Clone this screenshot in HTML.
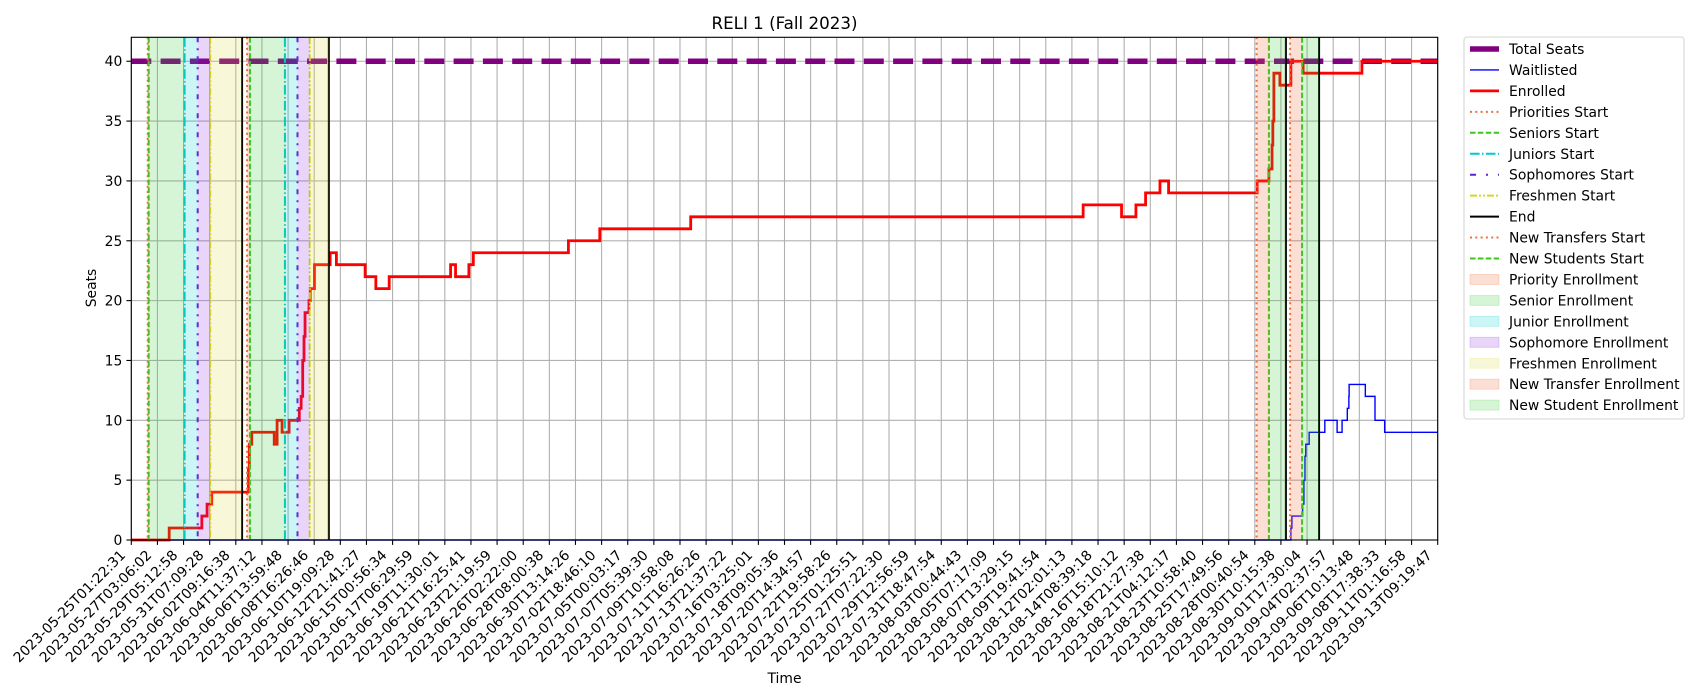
<!DOCTYPE html>
<html><head><meta charset="utf-8"><title>RELI 1 (Fall 2023)</title>
<style>
html,body{margin:0;padding:0;background:#fff;}
svg{display:block;font-family:"DejaVu Sans","Liberation Sans",sans-serif;}
</style></head>
<body>
<svg id="chart" width="1700" height="700" viewBox="0 0 1700 700" xmlns="http://www.w3.org/2000/svg">
<rect x="0" y="0" width="1700" height="700" fill="#fff"/>
<text x="784.5" y="29" text-anchor="middle" font-size="16.7" fill="#000">RELI 1 (Fall 2023)</text>
<text transform="translate(96,288) rotate(-90)" text-anchor="middle" font-size="13.9" fill="#000">Seats</text>
<text x="784.5" y="683" text-anchor="middle" font-size="13.9" fill="#000">Time</text>
<g id="grid"></g>
<g id="series"></g>
<g id="events"></g>
<g id="spans"></g>
<g id="axes"></g>
<g id="legend"></g>
</svg>
<script>
// ---- data ----
const xLabels = ["2023-05-25T01:22:31","2023-05-27T03:06:02","2023-05-29T05:12:58","2023-05-31T07:09:28","2023-06-02T09:16:38","2023-06-04T11:37:12","2023-06-06T13:59:48","2023-06-08T16:26:46","2023-06-10T19:09:28","2023-06-12T21:41:27","2023-06-15T00:56:34","2023-06-17T06:29:59","2023-06-19T11:30:01","2023-06-21T16:25:41","2023-06-23T21:19:59","2023-06-26T02:22:00","2023-06-28T08:00:38","2023-06-30T13:14:26","2023-07-02T18:46:10","2023-07-05T00:03:17","2023-07-07T05:39:30","2023-07-09T10:58:08","2023-07-11T16:26:26","2023-07-13T21:37:22","2023-07-16T03:25:01","2023-07-18T09:05:36","2023-07-20T14:34:57","2023-07-22T19:58:26","2023-07-25T01:25:51","2023-07-27T07:22:30","2023-07-29T12:56:59","2023-07-31T18:47:54","2023-08-03T00:44:43","2023-08-05T07:17:09","2023-08-07T13:29:15","2023-08-09T19:41:54","2023-08-12T02:01:13","2023-08-14T08:39:18","2023-08-16T15:10:12","2023-08-18T21:27:38","2023-08-21T04:12:17","2023-08-23T10:58:40","2023-08-25T17:49:56","2023-08-28T00:40:54","2023-08-30T10:15:38","2023-09-01T17:30:04","2023-09-04T02:37:57","2023-09-06T10:13:48","2023-09-08T17:38:33","2023-09-11T01:16:58","2023-09-13T09:19:47"];
const yTicks = [0,5,10,15,20,25,30,35,40];
const totalSeats = 40;
const enrolledX = [0,1.45,2.70,2.90,3.08,4.48,4.52,4.61,5.47,5.58,5.77,6.04,6.43,6.50,6.56,6.61,6.65,6.80,6.85,7.01,7.61,7.85,8.95,9.36,9.87,12.22,12.41,12.92,13.09,16.73,17.93,21.41,36.43,37.90,38.45,38.82,39.37,39.70,43.09,43.54,43.66,43.69,43.73,43.96,44.38,44.85,47.10,50];
const enrolledY = [0,1,2,3,4,6,8,9,8,10,9,10,11,12,15,17,19,20,21,23,24,23,22,21,22,23,22,23,24,25,26,27,28,27,28,29,30,29,30,31,33,35,39,38,40,39,40,40];
const waitX = [0,44.38,44.42,44.83,44.88,44.92,44.95,44.98,45.08,45.68,46.15,46.34,46.54,46.60,46.61,47.23,47.60,47.97,50];
const waitY = [0,1,2,3,5,7,8,8,9,10,9,10,11,12,13,12,10,9,9];
const eventNames = ["Priorities Start","Seniors Start","Juniors Start","Sophomores Start","Freshmen Start","End","Priorities Start","Seniors Start","Juniors Start","Sophomores Start","Freshmen Start","End","New Transfers Start","New Students Start","End","New Transfers Start","New Students Start","End"];
const eventX = [0.628,0.666,2.04,2.54,3.02,4.24,4.43,4.54,5.88,6.36,6.83,7.56,43.07,43.54,44.19,44.35,44.81,45.46];
const spanNames = ["Priority Enrollment","Senior Enrollment","Junior Enrollment","Sophomore Enrollment","Freshmen Enrollment","Priority Enrollment","Senior Enrollment","Junior Enrollment","Sophomore Enrollment","Freshmen Enrollment","New Transfer Enrollment","New Student Enrollment","New Transfer Enrollment","New Student Enrollment"];
const spanStart = [0.628,0.666,2.04,2.54,3.02,4.43,4.54,5.88,6.36,6.83,43.07,43.54,44.35,44.81];
const spanEnd = [0.666,2.04,2.54,3.02,4.24,4.54,5.88,6.36,6.83,7.56,43.54,44.19,44.81,45.46];

// ---- scales ----
const X0=131.3, X1=1437.7, YB=540, YT=37.3;
const xMax = xLabels.length-1;
function xs(i){return X0+(X1-X0)*i/xMax;}
function ys(v){return YB-(YB-YT)*v/42;}
const NS="http://www.w3.org/2000/svg";
function mk(tag,attrs,parent){const e=document.createElementNS(NS,tag);for(const k in attrs)e.setAttribute(k,attrs[k]);parent.appendChild(e);return e;}
const styles = {
 "Priorities Start":{c:"#f07038",d:"2,3.3"},
 "Seniors Start":{c:"#38c81a",d:"5.5,2.4"},
 "Juniors Start":{c:"#00c8d0",d:"9.6,2.4,1.5,2.4"},
 "Sophomores Start":{c:"#6020d0",d:"5,6,2,6"},
 "Freshmen Start":{c:"#d6d624",d:"7,2,2,2,2,2"},
 "End":{c:"#000",d:""},
 "New Transfers Start":{c:"#f07038",d:"2,3.3"},
 "New Students Start":{c:"#38c81a",d:"5.5,2.4"}
};
const fills = {
 "Priority Enrollment":"rgba(240,110,60,0.22)",
 "Senior Enrollment":"rgba(50,205,50,0.2)",
 "Junior Enrollment":"rgba(0,206,209,0.2)",
 "Sophomore Enrollment":"rgba(138,43,226,0.2)",
 "Freshmen Enrollment":"rgba(220,220,60,0.2)",
 "New Transfer Enrollment":"rgba(240,110,60,0.22)",
 "New Student Enrollment":"rgba(50,205,50,0.2)"
};
const grid=document.getElementById('grid'), series=document.getElementById('series'), events=document.getElementById('events'), spans=document.getElementById('spans'), axes=document.getElementById('axes'), legend=document.getElementById('legend');

// grid
for(let i=0;i<=xMax;i++){
 const l=mk('line',{x1:xs(i),x2:xs(i),y1:YT,y2:YB,stroke:"#b0b0b0","stroke-width":1.1},grid);
 
 
}
yTicks.forEach(v=>{
 const l=mk('line',{x1:X0,x2:X1,y1:ys(v),y2:ys(v),stroke:"#b0b0b0","stroke-width":1.1},grid);
 
 
});

// step path (value ya[i] starts at xa[i])
function stepPath(xa,ya){let d="M"+xs(xa[0])+","+ys(ya[0]);for(let i=1;i<xa.length;i++){d+=" H"+xs(xa[i])+" V"+ys(ya[i]);}return d;}
const ts=mk('line',{x1:X0,x2:X1,y1:ys(totalSeats),y2:ys(totalSeats),stroke:"#800080","stroke-width":5.5,"stroke-dasharray":"20,9.3"},series);


const wl=mk('path',{d:stepPath(waitX,waitY),fill:"none",stroke:"#0000ff","stroke-width":1.4},series);


const en=mk('path',{d:stepPath(enrolledX,enrolledY),fill:"none",stroke:"#ff0000","stroke-width":2.8,"stroke-linejoin":"miter"},series);



// event lines
eventX.forEach((x,i)=>{
 const s=styles[eventNames[i]];
 const l=mk('line',{x1:xs(x),x2:xs(x),y1:YT,y2:YB,stroke:s.c,"stroke-width":2},events);
 if(s.d)l.setAttribute('stroke-dasharray',s.d);
 
 
});
// spans
spanStart.forEach((x,i)=>{
 const r=mk('rect',{x:xs(x),y:YT,width:xs(spanEnd[i])-xs(x),height:YB-YT,fill:fills[spanNames[i]]},spans);
 
 
});

// axes frame + ticks
const fr=mk('rect',{x:X0,y:YT,width:X1-X0,height:YB-YT,fill:"none",stroke:"#000","stroke-width":1.1},axes);


yTicks.forEach(v=>{
 const t=mk('line',{x1:X0-4.9,x2:X0,y1:ys(v),y2:ys(v),stroke:"#000","stroke-width":1.1},axes);
 
 
 const tx=mk('text',{x:X0-9,y:ys(v)+5,"text-anchor":"end","font-size":13.9,fill:"#000"},axes);
 tx.textContent=v;
 
 
});
xLabels.forEach((lab,i)=>{
 const x=xs(i);
 const t=mk('line',{x1:x,x2:x,y1:YB,y2:YB+4.9,stroke:"#000","stroke-width":1.1},axes);
 
 
 const tx=mk('text',{transform:"translate("+(x-5)+","+(YB+16)+") rotate(-45)","text-anchor":"end","font-size":13.9,fill:"#000"},axes);
 tx.textContent=lab;
 
 
});

// legend
const legBox=mk('rect',{x:1464,y:37,width:220,height:382,rx:3,fill:"#fff",stroke:"#d6d6d6","stroke-width":1.1},legend);


const legItems=[
 {t:"Total Seats",k:"line",c:"#800080",w:5.5,d:""},
 {t:"Waitlisted",k:"line",c:"#0000ff",w:1.4,d:""},
 {t:"Enrolled",k:"line",c:"#ff0000",w:2.8,d:""},
 {t:"Priorities Start",k:"line",c:styles["Priorities Start"].c,w:2,d:styles["Priorities Start"].d},
 {t:"Seniors Start",k:"line",c:styles["Seniors Start"].c,w:2,d:styles["Seniors Start"].d},
 {t:"Juniors Start",k:"line",c:styles["Juniors Start"].c,w:2,d:styles["Juniors Start"].d},
 {t:"Sophomores Start",k:"line",c:styles["Sophomores Start"].c,w:2,d:"6,10,2,10"},
 {t:"Freshmen Start",k:"line",c:styles["Freshmen Start"].c,w:2,d:styles["Freshmen Start"].d},
 {t:"End",k:"line",c:"#000",w:2,d:""},
 {t:"New Transfers Start",k:"line",c:styles["New Transfers Start"].c,w:2,d:styles["New Transfers Start"].d},
 {t:"New Students Start",k:"line",c:styles["New Students Start"].c,w:2,d:styles["New Students Start"].d},
 {t:"Priority Enrollment",k:"patch"},
 {t:"Senior Enrollment",k:"patch"},
 {t:"Junior Enrollment",k:"patch"},
 {t:"Sophomore Enrollment",k:"patch"},
 {t:"Freshmen Enrollment",k:"patch"},
 {t:"New Transfer Enrollment",k:"patch"},
 {t:"New Student Enrollment",k:"patch"}
];
legItems.forEach((it,i)=>{
 const cy=49+i*20.95;
 const g=mk('g',{},legend);
 
 
 if(it.k==="line"){
  const l=mk('line',{x1:1470,x2:1499,y1:cy,y2:cy,stroke:it.c,"stroke-width":it.w},g);
  if(it.d)l.setAttribute('stroke-dasharray',it.d);
 } else {
  mk('rect',{x:1470,y:cy-5,width:29,height:10,fill:fills[it.t],stroke:fills[it.t],"stroke-width":1},g);
 }
 const tx=mk('text',{x:1509,y:cy+5,"font-size":13.9,fill:"#000"},g);
 tx.textContent=it.t;
});
</script>
</body></html>
